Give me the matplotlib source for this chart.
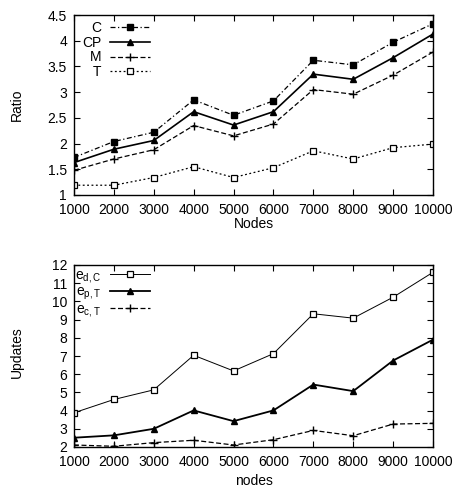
import matplotlib
matplotlib.use("Agg")
import matplotlib.pyplot as plt

plt.rcParams['font.family'] = ['Liberation Sans', 'DejaVu Sans']

nodes = [1000, 2000, 3000, 4000, 5000, 6000, 7000, 8000, 9000, 10000]
tick_labels = [str(n) for n in nodes]

ratio_C = [1.73, 2.04, 2.22, 2.85, 2.55, 2.83, 3.62, 3.53, 3.97, 4.33]
ratio_CP = [1.63, 1.89, 2.06, 2.62, 2.36, 2.62, 3.35, 3.25, 3.67, 4.13]
ratio_M = [1.48, 1.70, 1.88, 2.35, 2.15, 2.38, 3.05, 2.96, 3.33, 3.78]
ratio_T = [1.19, 1.19, 1.34, 1.55, 1.34, 1.53, 1.86, 1.70, 1.92, 1.99]

upd_edC = [3.88, 4.61, 5.14, 7.04, 6.18, 7.13, 9.32, 9.08, 10.23, 11.6]
upd_epT = [2.51, 2.64, 3.00, 4.01, 3.42, 4.01, 5.43, 5.07, 6.75, 7.9]
upd_ecT = [2.11, 2.04, 2.24, 2.37, 2.11, 2.40, 2.91, 2.62, 3.26, 3.30]

W, H = 457, 488
fig = plt.figure(figsize=(W / 100, H / 100), dpi=100)

def px_axes(l, t, r, b):
    return fig.add_axes([l / W, 1 - b / H, (r - l) / W, (b - t) / H])

L, R = 74, 433
ax1 = px_axes(L, 15, R, 195)
ax2 = px_axes(L, 265, R, 447)

fs = 10

def style(ax):
    ax.tick_params(direction='in', top=True, right=True, labelsize=fs, length=4, width=0.8)
    ax.tick_params(axis='x', pad=6)
    ax.tick_params(axis='y', pad=5)
    for s in ax.spines.values():
        s.set_linewidth(1.0)
    ax.set_xticks(nodes)
    ax.set_xticklabels(tick_labels)
    ax.set_xlim(1000, 10000)

def place_legend(ax, row_top_px, ax_top_px, spacing):
    fx = (150 - L) / (R - L)
    ax_h = ax.get_position().height * H
    fy = 1 - (row_top_px - ax_top_px) / ax_h
    ax.legend(loc='upper right', bbox_to_anchor=(fx, fy), frameon=False, markerfirst=False,
              fontsize=fs, handlelength=2.9, labelspacing=spacing, borderaxespad=0,
              borderpad=0, handletextpad=0.6)

ax1.plot(nodes, ratio_C, color='black', lw=0.9, ls=(0, (4, 2, 1, 2)), marker='s', ms=5, mfc='black', label='C')
ax1.plot(nodes, ratio_CP, color='black', lw=1.2, ls='-', marker='^', ms=5, mfc='black', label='CP')
ax1.plot(nodes, ratio_M, color='black', lw=0.9, ls=(0, (4, 2)), marker='+', ms=6, mew=1.0, label='M')
ax1.plot(nodes, ratio_T, color='black', lw=0.9, ls=(0, (1.5, 2)), marker='s', ms=4.5, mfc='white', mew=0.9, label='T')
style(ax1)
ax1.set_ylim(1, 4.5)
ax1.set_yticks([1, 1.5, 2, 2.5, 3, 3.5, 4, 4.5])
ax1.set_yticklabels(['1', '1.5', '2', '2.5', '3', '3.5', '4', '4.5'])
place_legend(ax1, 21, 15, 0.05)

ax2.plot(nodes, upd_edC, color='black', lw=0.7, ls='-', marker='s', ms=5, mfc='white', mew=0.9, label=r'e$_{\mathregular{d,C}}$')
ax2.plot(nodes, upd_epT, color='black', lw=1.3, ls='-', marker='^', ms=5, mfc='black', label=r'e$_{\mathregular{p,T}}$')
ax2.plot(nodes, upd_ecT, color='black', lw=0.9, ls=(0, (4, 2)), marker='+', ms=6, mew=1.0, label=r'e$_{\mathregular{c,T}}$')
style(ax2)
ax2.set_ylim(2, 12)
ax2.set_yticks(list(range(2, 13)))
place_legend(ax2, 268, 265, 0.0)

fig.text(17 / W, 1 - 105 / H, 'Ratio', rotation=90, ha='center', va='center', fontsize=fs)
fig.text(17 / W, 1 - 352 / H, 'Updates', rotation=90, ha='center', va='center', fontsize=fs)
fig.text(254 / W, 1 - 224 / H, 'Nodes', ha='center', va='center', fontsize=fs)
fig.text(254 / W, 1 - 481 / H, 'nodes', ha='center', va='center', fontsize=fs)

fig.savefig('out.png', dpi=100)
